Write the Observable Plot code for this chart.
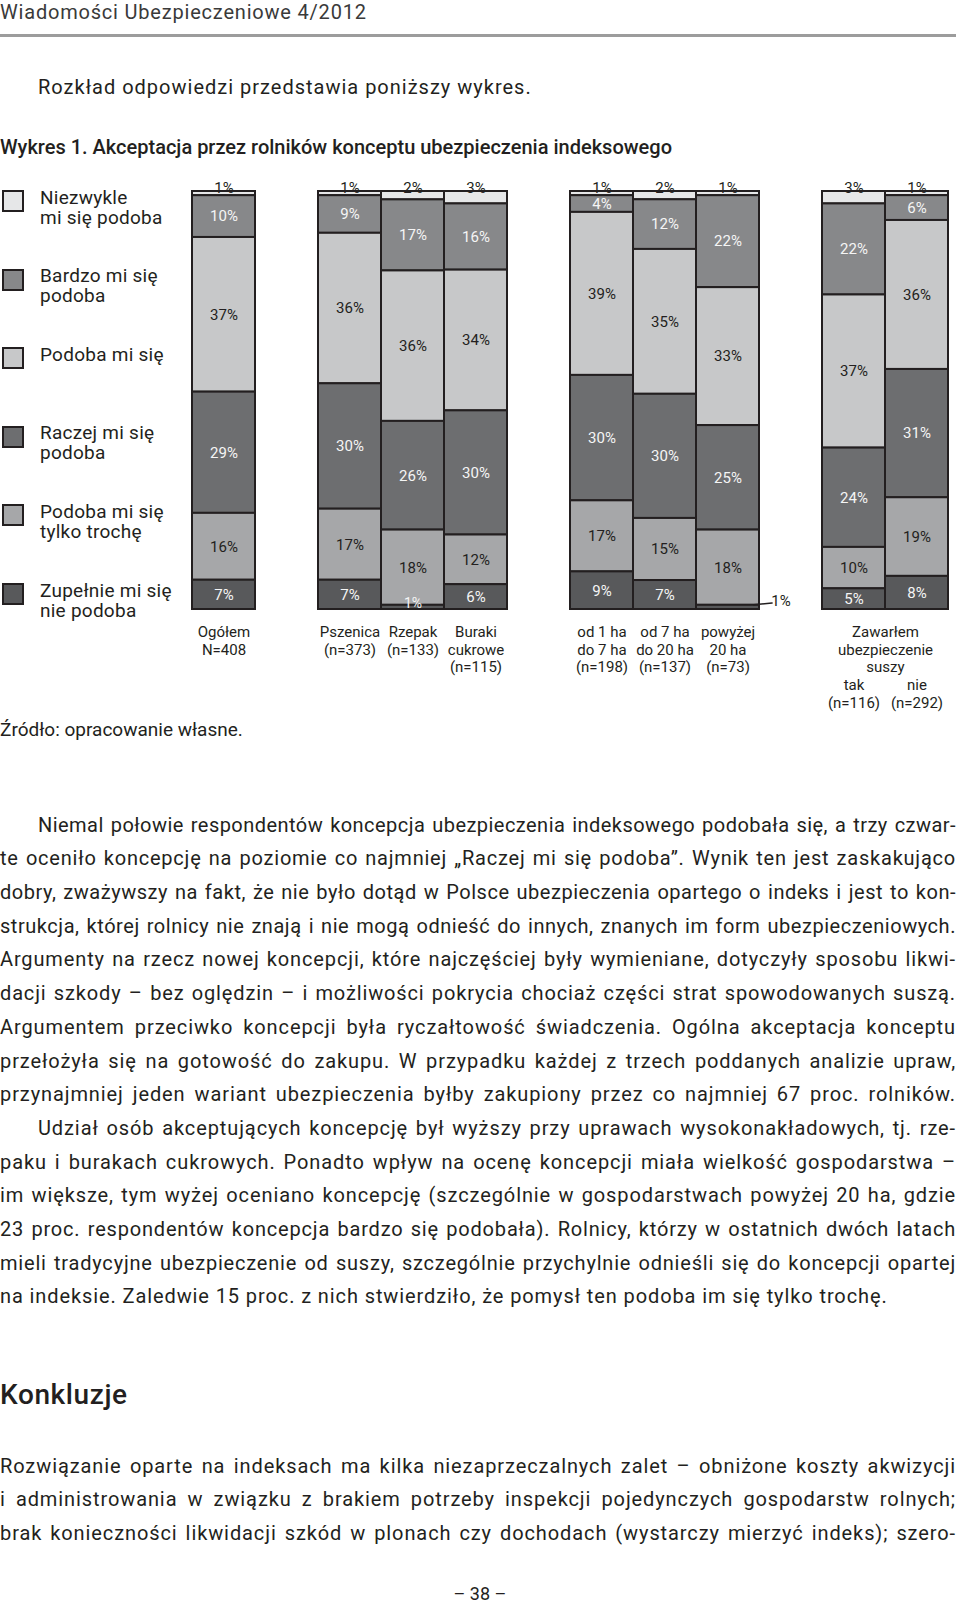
<!DOCTYPE html>
<html><head><meta charset="utf-8">
<script src="https://cdn.jsdelivr.net/npm/d3@7"></script>
<script src="https://cdn.jsdelivr.net/npm/@observablehq/plot@0.6"></script>
<style>
html,body{margin:0;padding:0;background:#fff;}
body{width:960px;height:1602px;position:relative;overflow:hidden;font-family:Roboto,"Open Sans",sans-serif;color:#231f20;}
.abs{position:absolute;white-space:nowrap;}
#hdr{left:0;top:0.5px;font-size:20px;line-height:1.171;color:#3a3a3a;letter-spacing:0.8px;}
#rule{position:absolute;left:0;top:34px;width:956px;height:3px;background:#9c9c9c;}
#intro{left:38px;top:75.5px;font-size:20px;line-height:1.171;letter-spacing:1px;}
#ctitle{left:0;top:135.5px;font-size:20px;line-height:1.171;font-weight:500;}
#chart{position:absolute;left:0;top:170px;}
#legend{position:absolute;left:0;top:0;z-index:2;}
.sw{position:absolute;left:2px;width:22px;height:22px;box-sizing:border-box;border:2px solid #231f20;}
.lt{position:absolute;left:40px;font-size:19px;line-height:20px;white-space:pre;color:#231f20;letter-spacing:0.25px;}
#source{left:0;top:718.5px;font-size:19px;line-height:1.171;}
.para{position:absolute;left:0;width:956px;font-size:20px;line-height:33.7px;}
.ln{white-space:nowrap;}
#konk{left:0;top:1379px;font-size:28px;line-height:1.171;font-weight:500;letter-spacing:0.6px;}
#pnum{left:0;width:960px;text-align:center;top:1583px;font-size:18px;line-height:1.171;}
</style>
</head><body>
<div class="abs" id="hdr">Wiadomości Ubezpieczeniowe 4/2012</div>
<div id="rule"></div>
<div class="abs" id="intro">Rozkład odpowiedzi przedstawia poniższy wykres.</div>
<div class="abs" id="ctitle">Wykres 1. Akceptacja przez rolników konceptu ubezpieczenia indeksowego</div>
<div id="chart"></div>
<div id="legend"></div>
<div class="abs" id="source">Źródło: opracowanie własne.</div>
<div class="para" id="p1" style="top:808.6px"></div>
<div class="abs" id="konk">Konkluzje</div>
<div class="para" id="p2" style="top:1449.6px"></div>
<div class="abs" id="pnum">– 38 –</div>
<script>
// ---- chart data ----
const categories = ["Ogółem", "Pszenica", "Rzepak", "Buraki cukrowe", "od 1 ha do 7 ha", "od 7 ha do 20 ha", "powyżej 20 ha", "tak", "nie"];
const categoryLabels = ["Ogółem\nN=408", "Pszenica\n(n=373)", "Rzepak\n(n=133)", "Buraki\ncukrowe\n(n=115)", "od 1 ha\ndo 7 ha\n(n=198)", "od 7 ha\ndo 20 ha\n(n=137)", "powyżej\n20 ha\n(n=73)", "tak\n(n=116)", "nie\n(n=292)"];
const groupLabel = "Zawarłem\nubezpieczenie\nsuszy";
const slots = ["Ogółem", "gap1", "Pszenica", "Rzepak", "Buraki cukrowe", "gap2", "od 1 ha do 7 ha", "od 7 ha do 20 ha", "powyżej 20 ha", "gap3", "tak", "nie"];

const seriesNames = ["Niezwykle mi się podoba", "Bardzo mi się podoba", "Podoba mi się", "Raczej mi się podoba", "Podoba mi się tylko trochę", "Zupełnie mi się nie podoba"];
const legendLabels = ["Niezwykle\nmi się podoba", "Bardzo mi się\npodoba", "Podoba mi się", "Raczej mi się\npodoba", "Podoba mi się\ntylko trochę", "Zupełnie mi się\nnie podoba"];
const seriesColors = ["#e6e7e8", "#87888a", "#c7c8c9", "#6d6e70", "#a6a7a9", "#58595b"];

const niezwykle = [1, 1, 2, 3, 1, 2, 1, 3, 1];
const bardzo    = [10, 9, 17, 16, 4, 12, 22, 22, 6];
const podoba    = [37, 36, 36, 34, 39, 35, 33, 37, 36];
const raczej    = [29, 30, 26, 30, 30, 30, 25, 24, 31];
const trochu    = [16, 17, 18, 12, 17, 15, 18, 10, 19];
const zupelnie  = [7, 7, 1, 6, 9, 7, 1, 5, 8];

const seriesValues = [niezwykle, bardzo, podoba, raczej, trochu, zupelnie];
const calloutCats = ["powyżej 20 ha"];

// ---- build rows ----
const rows = [];
seriesNames.forEach((s, si) => categories.forEach((c, ci) => rows.push({cat: c, series: s, value: seriesValues[si][ci]})));
const stackOrder = seriesNames.slice().reverse(); // bottom first
const topName = seriesNames[0];
const whiteText = new Set([seriesNames[1], seriesNames[3], seriesNames[5]]);
const darkText = new Set([seriesNames[2], seriesNames[4]]);
const bottomName = seriesNames[5];
const catRows = categories.map((c, i) => ({cat: c, label: categoryLabels[i]}));

const W = 960, H = 560, ML = 192, MR = 12, MT = 21, MB = 121;
const bw = (W - ML - MR) / slots.length;
const ink = "#231f20";
const stackOpts = {x: "cat", y: "value", z: "series", order: stackOrder, offset: "normalize"};

// callout (tiny bottom segment labelled outside the bar)
const callouts = calloutCats.map(c => {
  const i = categories.indexOf(c);
  const total = d3.sum(seriesValues, v => v[i]);
  const mid = zupelnie[i] / 2 / total;
  return {cat: c, next: slots[slots.indexOf(c) + 1], y1: mid, y2: mid * 4, text: zupelnie[i] + "%"};
});

const chart = Plot.plot({
  width: W, height: H,
  marginLeft: ML, marginRight: MR, marginTop: MT, marginBottom: MB,
  x: {domain: slots, padding: 0, axis: null},
  y: {domain: [0, 1], axis: null},
  color: {domain: seriesNames, range: seriesColors},
  style: {fontFamily: "Roboto, sans-serif", fontSize: "15px", background: "transparent", color: ink},
  marks: [
    Plot.barY(rows, Plot.stackY({...stackOpts, fill: "series", stroke: ink, strokeWidth: 2})),
    Plot.text(rows, Plot.stackY({...stackOpts,
      text: d => (whiteText.has(d.series) && d.value > 1) ? d.value + "%" : "",
      fill: "#f5f5f5", fontSize: 15})),
    Plot.text(rows, Plot.stackY({...stackOpts,
      text: d => (darkText.has(d.series) && d.value > 1) ? d.value + "%" : "",
      fill: ink, fontSize: 15})),
    Plot.text(rows, Plot.stackY({...stackOpts,
      text: d => (d.series === bottomName && d.value <= 1 && !calloutCats.includes(d.cat)) ? d.value + "%" : "",
      fill: "#f5f5f5", fontSize: 14, dy: -4})),
    Plot.text(rows.filter(d => d.series === topName), {x: "cat", frameAnchor: "top", dy: -9, text: d => d.value + "%", fill: ink, fontSize: 15}),
    Plot.arrow(callouts, {x1: "cat", y1: "y1", x2: "next", y2: "y2", headLength: 0, insetStart: 26, insetEnd: 19, stroke: ink, strokeWidth: 1.5}),
    Plot.text(callouts, {x: "next", y: "y2", text: "text", dx: -10, fill: ink, fontSize: 15}),
    Plot.text(catRows.slice(0, 7), {x: "cat", text: "label", frameAnchor: "bottom", lineAnchor: "top", dy: 15, lineHeight: 1.17, fill: ink, fontSize: 15}),
    Plot.text([{cat: "tak", label: groupLabel}], {x: "cat", text: "label", frameAnchor: "bottom", lineAnchor: "top", dy: 15, dx: bw / 2, lineHeight: 1.17, fill: ink, fontSize: 15}),
    Plot.text(catRows.slice(7), {x: "cat", text: "label", frameAnchor: "bottom", lineAnchor: "top", dy: 68, lineHeight: 1.17, fill: ink, fontSize: 15})
  ]
});
document.getElementById("chart").appendChild(chart);

// ---- legend ----
const legend = document.getElementById("legend");
seriesNames.forEach((s, i) => {
  const top = 190 + i * 78.6;
  const sw = document.createElement("div");
  sw.className = "sw"; sw.style.top = top + "px"; sw.style.background = seriesColors[i];
  legend.appendChild(sw);
  const t = document.createElement("div");
  t.className = "lt"; t.style.top = (top - 2.5) + "px"; t.textContent = legendLabels[i];
  legend.appendChild(t);
});

// ---- body text ----
const para1 = [
  "Niemal połowie respondentów koncepcja ubezpieczenia indeksowego podobała się, a trzy czwar-",
  "te oceniło koncepcję na poziomie co najmniej „Raczej mi się podoba”. Wynik ten jest zaskakująco",
  "dobry, zważywszy na fakt, że nie było dotąd w Polsce ubezpieczenia opartego o indeks i jest to kon-",
  "strukcja, której rolnicy nie znają i nie mogą odnieść do innych, znanych im form ubezpieczeniowych.",
  "Argumenty na rzecz nowej koncepcji, które najczęściej były wymieniane, dotyczyły sposobu likwi-",
  "dacji szkody – bez oględzin – i możliwości pokrycia chociaż części strat spowodowanych suszą.",
  "Argumentem przeciwko koncepcji była ryczałtowość świadczenia. Ogólna akceptacja konceptu",
  "przełożyła się na gotowość do zakupu. W przypadku każdej z trzech poddanych analizie upraw,",
  "przynajmniej jeden wariant ubezpieczenia byłby zakupiony przez co najmniej 67 proc. rolników."
];
const para2 = [
  "Udział osób akceptujących koncepcję był wyższy przy uprawach wysokonakładowych, tj. rze-",
  "paku i burakach cukrowych. Ponadto wpływ na ocenę koncepcji miała wielkość gospodarstwa –",
  "im większe, tym wyżej oceniano koncepcję (szczególnie w gospodarstwach powyżej 20 ha, gdzie",
  "23 proc. respondentów koncepcja bardzo się podobała). Rolnicy, którzy w ostatnich dwóch latach",
  "mieli tradycyjne ubezpieczenie od suszy, szczególnie przychylnie odnieśli się do koncepcji opartej",
  "na indeksie. Zaledwie 15 proc. z nich stwierdziło, że pomysł ten podoba im się tylko trochę."
];
const concl = [
  "Rozwiązanie oparte na indeksach ma kilka niezaprzeczalnych zalet – obniżone koszty akwizycji",
  "i administrowania w związku z brakiem potrzeby inspekcji pojedynczych gospodarstw rolnych;",
  "brak konieczności likwidacji szkód w plonach czy dochodach (wystarczy mierzyć indeks); szero-"
];
const baseLS = 0.9, minWS = 1.5;
function addLines(container, lines, indentFirst, lastRagged) {
  lines.forEach((txt, i) => {
    const div = document.createElement("div");
    div.className = "ln";
    const indent = indentFirst && i === 0 ? 38 : 0;
    div.style.paddingLeft = indent + "px";
    const span = document.createElement("span");
    span.textContent = txt;
    div.appendChild(span);
    container.appendChild(div);
    if (lastRagged && i === lines.length - 1) { span.style.letterSpacing = baseLS + "px"; return; }
    const target = 956 - indent;
    const nat = span.getBoundingClientRect().width;
    const n = txt.length;
    const spaces = (txt.match(/ /g) || []).length;
    let ls = baseLS;
    if (nat + n * ls + spaces * minWS > target) ls = Math.max(0, (target - nat - spaces * minWS) / n);
    const ws = (target - nat - n * ls) / spaces;
    span.style.letterSpacing = ls + "px";
    span.style.wordSpacing = ws + "px";
  });
}
const p1 = document.getElementById("p1");
addLines(p1, para1, true, false);
addLines(p1, para2, true, true);
addLines(document.getElementById("p2"), concl, false, false);
</script>
</body></html>
